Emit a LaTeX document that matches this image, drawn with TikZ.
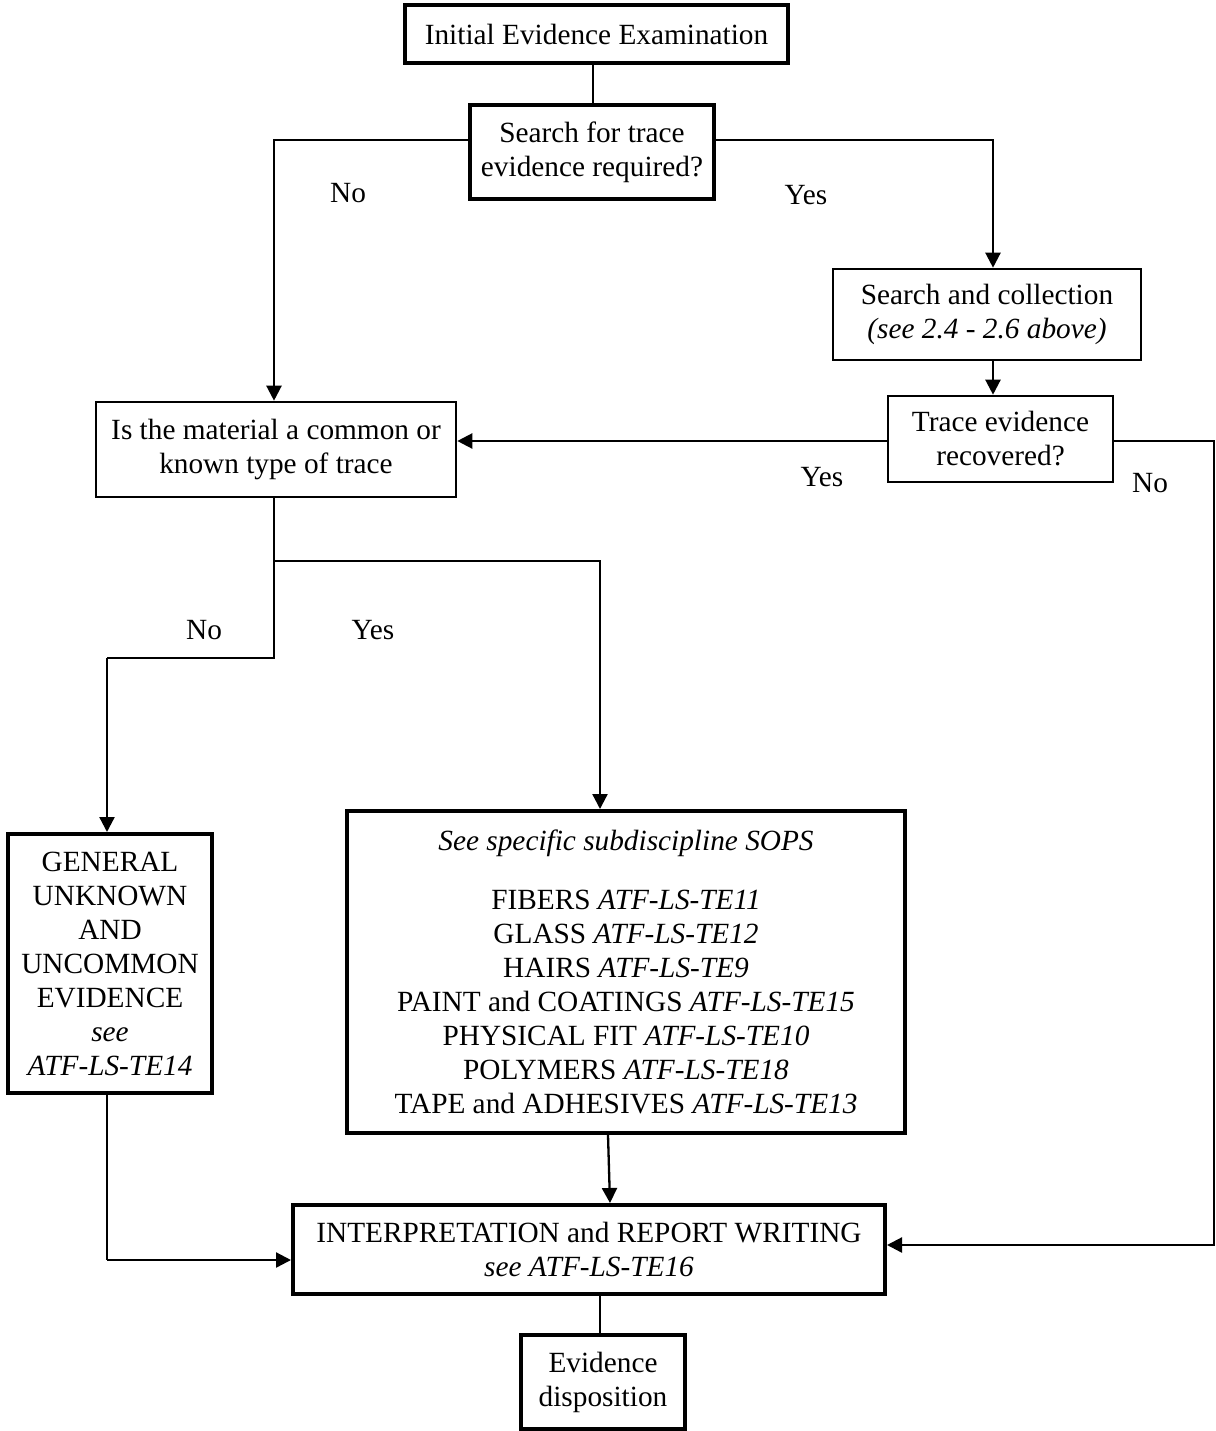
\documentclass[tikz,border=0pt]{standalone}
\usepackage{fontspec}
\setmainfont{Liberation Serif}
\usetikzlibrary{arrows.meta}
\begin{document}
\begin{tikzpicture}[x=1pt,y=-1pt,
  box/.style={draw, line width=2.6pt, align=center, inner sep=0pt, font=\fontsize{29.3}{34}\selectfont, anchor=center},
  thickbox/.style={box, line width=4pt},
  conn/.style={line width=2.3pt},
  arr/.style={conn, -{Triangle[length=15pt,width=15pt]}},
  lbl/.style={font=\fontsize{29.3}{34}\selectfont, inner sep=0pt}]
\useasboundingbox (0,0) rectangle (1215,1431);
\fill[white] (0,0) rectangle (1215,1431);

\node[thickbox, minimum width=383pt, minimum height=58pt] (init) at (596.5,34) {Initial Evidence Examination};
\node[thickbox, minimum width=244pt, minimum height=94pt] (search) at (592,152) {Search for trace\\evidence required?};
\node[box, minimum width=308pt, minimum height=91pt] (collect) at (987,314.5) {Search and collection\\\textit{(see 2.4 - 2.6 above)}};
\node[box, minimum width=225pt, minimum height=86pt] (trace) at (1000.5,439) {Trace evidence\\recovered?};
\node[box, minimum width=360pt, minimum height=95pt] (material) at (276,449.5) {Is the material a common or\\known type of trace};
\node[thickbox, minimum width=204pt, minimum height=259pt] (general) at (110,963.5) {GENERAL\\UNKNOWN\\AND\\UNCOMMON\\EVIDENCE\\\textit{see}\\\textit{ATF-LS-TE14}};
\node[thickbox, minimum width=558pt, minimum height=322pt] (sops) at (626,972) {\textit{See specific subdiscipline SOPS}\\[25pt]
FIBERS \textit{ATF-LS-TE11}\\
GLASS \textit{ATF-LS-TE12}\\
HAIRS \textit{ATF-LS-TE9}\\
PAINT and COATINGS \textit{ATF-LS-TE15}\\
PHYSICAL FIT \textit{ATF-LS-TE10}\\
POLYMERS \textit{ATF-LS-TE18}\\
TAPE and ADHESIVES \textit{ATF-LS-TE13}};
\node[thickbox, minimum width=592pt, minimum height=89pt] (interp) at (589,1249.5) {INTERPRETATION and REPORT WRITING\\\textit{see ATF-LS-TE16}};
\node[thickbox, minimum width=164pt, minimum height=94pt] (evid) at (603,1382) {Evidence\\disposition};

% coordinates
\coordinate (rc) at (1214,1245);
\coordinate (split) at (274,561);
\coordinate (nobend) at (274,658);
\coordinate (yesbend) at (600,561);
\coordinate (genbend) at (107,658);
\coordinate (lowbend) at (107,1260);

% connectors
\draw[conn] ([xshift=-3.5pt]init.south) -- ([xshift=-3.5pt]init.south |- search.north);
\draw[arr] ([yshift=12pt]search.west) -| ([xshift=-2pt]material.north);
\draw[arr] ([yshift=12pt]search.east) -| ([xshift=6pt]collect.north);
\draw[arr] ([xshift=6pt]collect.south) -- ([xshift=6pt]collect.south |- trace.north);
\draw[arr] ([yshift=-2pt]trace.west) -- ([yshift=-2pt]trace.west -| material.east);
\draw[arr] ([yshift=-2pt]trace.east) -- ([yshift=-2pt]trace.east -| rc) -- (rc) -- (rc -| interp.east);
\draw[conn] ([xshift=-2pt]material.south) -- (nobend) -- (genbend);
\draw[arr] (genbend) -- (genbend |- general.north);
\draw[arr] (split) -- (yesbend) -- (yesbend |- sops.north);
\draw[conn] (genbend |- general.south) -- (lowbend);
\draw[arr] (lowbend) -- (lowbend -| interp.west);
\draw[arr] ([xshift=-18pt]sops.south) -- ([xshift=21pt]interp.north);
\draw[conn] ([xshift=-3pt]evid.north) -- ([xshift=-3pt]evid.north |- interp.south);

% labels
\node[lbl] (l1) at (348,193) {No};
\node[lbl] (l2) at (806,195) {Yes};
\node[lbl] (l3) at (822,477) {Yes};
\node[lbl] (l4) at (1150,483) {No};
\node[lbl] (l5) at (204,630) {No};
\node[lbl] (l6) at (373,630) {Yes};
\end{tikzpicture}
\end{document}
